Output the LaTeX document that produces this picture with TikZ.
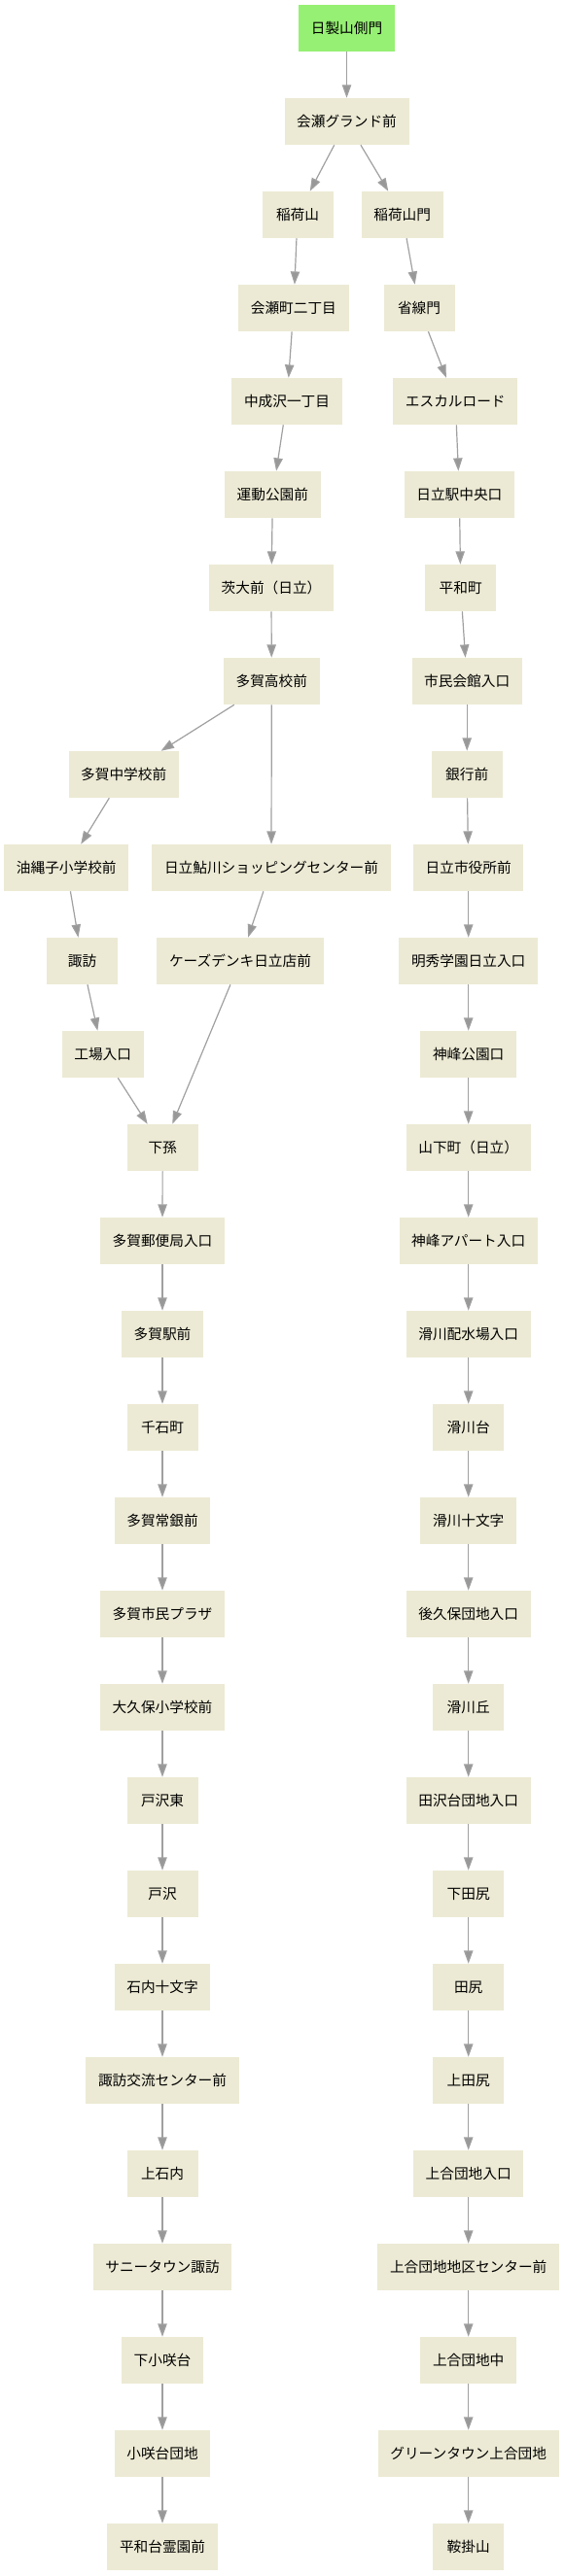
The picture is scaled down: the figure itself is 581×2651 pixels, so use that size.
\documentclass[tikz,border=0pt]{standalone}
\usepackage{fontspec}
\newfontfamily\jpfont{Noto Sans CJK JP}
\usetikzlibrary{arrows.meta}
\definecolor{stopfill}{HTML}{ECEAD4}
\definecolor{startfill}{HTML}{96F073}
\definecolor{edgegray}{HTML}{A0A0A0}
\begin{document}
\begin{tikzpicture}[x=0.75pt,y=-0.75pt,
  stopbox/.style={rectangle, fill=stopfill, minimum width=54.75pt, minimum height=36pt,
    inner xsep=9.5pt, inner ysep=0pt, font=\jpfont\fontsize{11pt}{13pt}\selectfont, text=black},
  startbox/.style={stopbox, fill=startfill},
  link/.style={draw=edgegray, line width=0.9pt, -{Triangle[length=10pt,width=7pt,fill=edgegray!95!black]}}]
\useasboundingbox (0,0) rectangle (581,2651);
% row y = 29 + 96 i
\node[startbox] (n0) at (356.5,29) {日製山側門};
\node[stopbox] (n1) at (356.5,125) {会瀬グランド前};
\node[stopbox] (a2) at (306,221) {稲荷山};
\node[stopbox] (b2) at (413.7,221) {稲荷山門};
\node[stopbox] (a3) at (301.9,317) {会瀬町二丁目};
\node[stopbox] (b3) at (431,317) {省線門};
\node[stopbox] (a4) at (295,413) {中成沢一丁目};
\node[stopbox] (b4) at (468.3,413) {エスカルロード};
\node[stopbox] (a5) at (280.4,509) {運動公園前};
\node[stopbox] (b5) at (472.4,509) {日立駅中央口};
\node[stopbox] (a6) at (279,605) {茨大前（日立）};
\node[stopbox] (b6) at (473.7,605) {平和町};
\node[stopbox] (a7) at (279.3,701) {多賀高校前};
\node[stopbox] (b7) at (480.2,701) {市民会館入口};
\node[stopbox] (l8) at (127.2,797) {多賀中学校前};
\node[stopbox] (b8) at (480.2,797) {銀行前};
\node[stopbox] (l9) at (68.3,893) {油縄子小学校前};
\node[stopbox] (m9) at (279,893) {日立鮎川ショッピングセンター前};
\node[stopbox] (b9) at (481.7,893) {日立市役所前};
\node[stopbox] (l10) at (84.6,989) {諏訪};
\node[stopbox] (m10) at (247,989) {ケーズデンキ日立店前};
\node[stopbox] (b10) at (481.7,989) {明秀学園日立入口};
\node[stopbox] (l11) at (105.7,1085) {工場入口};
\node[stopbox] (b11) at (481.7,1085) {神峰公園口};
\node[stopbox] (a12) at (167.2,1181) {下孫};
\node[stopbox] (b12) at (481.7,1181) {山下町（日立）};
\node[stopbox] (a13) at (167,1277) {多賀郵便局入口};
\node[stopbox] (b13) at (481.7,1277) {神峰アパート入口};
\node[stopbox] (a14) at (167,1373) {多賀駅前};
\node[stopbox] (b14) at (481.7,1373) {滑川配水場入口};
\node[stopbox] (a15) at (167,1469) {千石町};
\node[stopbox] (b15) at (481.7,1469) {滑川台};
\node[stopbox] (a16) at (167,1565) {多賀常銀前};
\node[stopbox] (b16) at (481.7,1565) {滑川十文字};
\node[stopbox] (a17) at (167,1661) {多賀市民プラザ};
\node[stopbox] (b17) at (481.7,1661) {後久保団地入口};
\node[stopbox] (a18) at (167,1757) {大久保小学校前};
\node[stopbox] (b18) at (481.7,1757) {滑川丘};
\node[stopbox] (a19) at (167,1853) {戸沢東};
\node[stopbox] (b19) at (481.7,1853) {田沢台団地入口};
\node[stopbox] (a20) at (167,1949) {戸沢};
\node[stopbox] (b20) at (481.7,1949) {下田尻};
\node[stopbox] (a21) at (167,2045) {石内十文字};
\node[stopbox] (b21) at (481.7,2045) {田尻};
\node[stopbox] (a22) at (167,2141) {諏訪交流センター前};
\node[stopbox] (b22) at (481.7,2141) {上田尻};
\node[stopbox] (a23) at (167,2237) {上石内};
\node[stopbox] (b23) at (481.7,2237) {上合団地入口};
\node[stopbox] (a24) at (167,2333) {サニータウン諏訪};
\node[stopbox] (b24) at (481.7,2333) {上合団地地区センター前};
\node[stopbox] (a25) at (167,2429) {下小咲台};
\node[stopbox] (b25) at (481.7,2429) {上合団地中};
\node[stopbox] (a26) at (167,2525) {小咲台団地};
\node[stopbox] (b26) at (481.7,2525) {グリーンタウン上合団地};
\node[stopbox] (a27) at (167,2621) {平和台霊園前};
\node[stopbox] (b27) at (481.7,2621) {鞍掛山};
% edges
\draw[link] (n0) -- (n1);
\draw[link] (n1) -- (a2);
\draw[link] (n1) -- (b2);
\draw[link] (a2) -- (a3);
\draw[link] (a3) -- (a4);
\draw[link] (a4) -- (a5);
\draw[link] (a5) -- (a6);
\draw[link] (a6) -- (a7);
\draw[link] (a7) -- (l8);
\draw[link] (a7) -- (m9);
\draw[link] (l8) -- (l9);
\draw[link] (l9) -- (l10);
\draw[link] (l10) -- (l11);
\draw[link] (l11) -- (a12);
\draw[link] (m9) -- (m10);
\draw[link] (m10) -- (a12);
\draw[link] (b2) -- (b3);
\draw[link] (b3) -- (b4);
\draw[link] (b4) -- (b5);
\draw[link] (b5) -- (b6);
\draw[link] (b6) -- (b7);
\draw[link] (b7) -- (b8);
\draw[link] (b8) -- (b9);
\draw[link] (b9) -- (b10);
\draw[link] (b10) -- (b11);
\draw[link] (b11) -- (b12);
\foreach \i [evaluate=\i as \j using int(\i+1)] in {12,...,26} {
  \draw[link] (a\i) -- (a\j);
  \draw[link] (b\i) -- (b\j);
}
\end{tikzpicture}
\end{document}
